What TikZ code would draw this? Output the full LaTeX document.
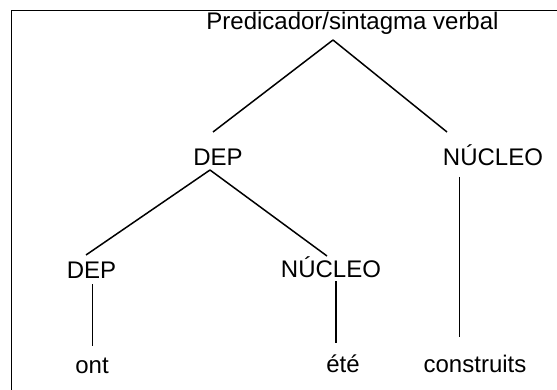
\documentclass[tikz,border=0pt]{standalone}
\usepackage{fontspec}
\setmainfont{Liberation Sans}
\usetikzlibrary{calc}
\begin{document}
\begin{tikzpicture}[x=0.5pt,y=-0.5pt,line width=0.75pt,
  lbl/.style={inner sep=0pt,anchor=base,font=\fontsize{12}{14}\selectfont}]
\useasboundingbox (0,0) rectangle (557,390);
\draw (11.5,390) -- (11.5,10.5) -- (557,10.5);
\draw node[lbl] (pred) at (352.5,30) {Predicador/sintagma verbal};
\draw node[lbl] (dep) at (218,166) {DEP};
\draw node[lbl] (nuc) at (493,166) {NÚCLEO};
\draw node[lbl] (depb) at (91.5,278) {DEP};
\draw node[lbl] (nucb) at (331,277) {NÚCLEO};
\draw node[lbl] (ont) at (92,373) {ont};
\draw node[lbl] (ete) at (343,372) {été};
\draw node[lbl] (constr) at (475,372) {construits};
\draw ($(pred.base)+(-19.5,10)$) -- ($(dep.base)+(-5,-34)$);
\draw ($(pred.base)+(-19.5,10)$) -- ($(nuc.base)+(-46,-34)$);
\draw ($(dep.base)+(-8,4)$) -- ($(depb.base)+(-5.5,-23)$);
\draw ($(dep.base)+(-8,4)$) -- ($(nucb.base)+(-4,-21)$);
\draw ($(nuc.base)+(-33.5,11)$) -- ($(constr.base)+(-15.5,-35)$);
\draw ($(depb.base)+(1,6)$) -- ($(ont.base)+(0.5,-27)$);
\draw ($(nucb.base)+(5,4)$) -- ($(ete.base)+(-7,-29)$);
\end{tikzpicture}
\end{document}
